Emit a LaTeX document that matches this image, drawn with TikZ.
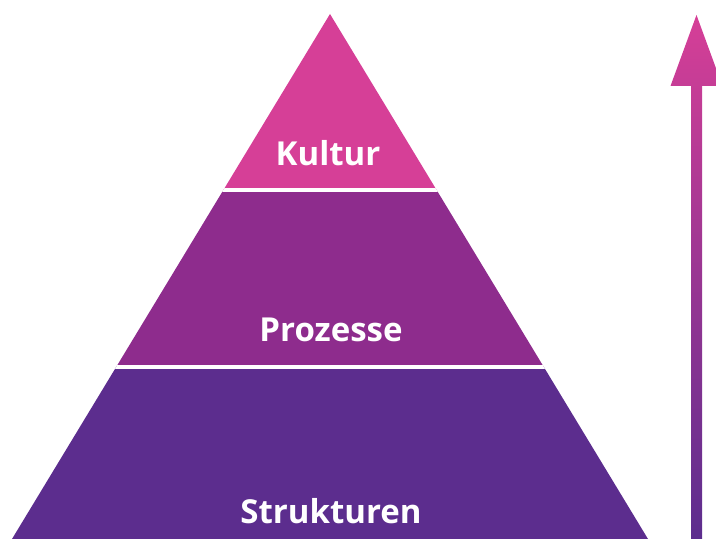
\documentclass[tikz,border=0pt]{standalone}
\usepackage{fontspec}
\setmainfont{Open Sans}
\definecolor{kultur}{HTML}{D63F97}
\definecolor{prozess}{HTML}{8E2C8D}
\definecolor{struktur}{HTML}{5C2D8E}

\begin{document}
\begin{tikzpicture}[x=1pt, y=1pt, layer/.style={text=white, font=\fontsize{33}{40}\selectfont\bfseries, anchor=base}]
\useasboundingbox (0,0) rectangle (716,539);
\clip (0,0) rectangle (716,539);
% pyramid
\coordinate (apex) at (330,525);
\coordinate (bl) at (12,0);
\coordinate (br) at (648,0);
\begin{scope}
\clip (bl) -- (apex) -- (br) -- cycle;
\fill[struktur] (0,0) rectangle (716,172);
\fill[prozess] (0,172) rectangle (716,349);
\fill[kultur] (0,349) rectangle (716,539);
\draw[white, line width=4.3pt] (0,172) -- (716,172);
\draw[white, line width=4.3pt] (0,349) -- (716,349);
\end{scope}
\node (k)[layer] at (328,373) {Kultur};
\node (p)[layer] at (331,197) {Prozesse};
\node (s)[layer] at (331,16) {Strukturen};
% arrow
\shade[top color=kultur, bottom color=struktur]
  (691,0) -- (691,453) -- (670.5,453) -- (696.5,524) -- (722.5,453) -- (702,453) -- (702,0) -- cycle;
\end{tikzpicture}
\end{document}
